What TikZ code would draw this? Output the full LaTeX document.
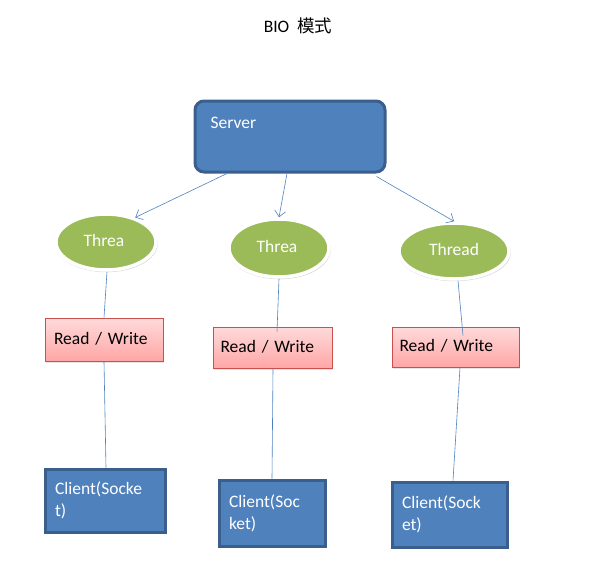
\documentclass[tikz,border=0pt]{standalone}
\usepackage{fontspec}
\setmainfont{Carlito}
\newfontfamily\cjk{Noto Sans CJK SC}
\usetikzlibrary{shapes.geometric,arrows.meta,shadows}

\definecolor{boxblue}{HTML}{4F81BD}
\definecolor{boxrim}{HTML}{3A5F8C}
\definecolor{threadgreen}{HTML}{9BBB59}
\definecolor{rwtop}{HTML}{FFDADA}
\definecolor{rwbot}{HTML}{FFA6A6}
\definecolor{rwrim}{HTML}{C8504D}

\begin{document}
\begin{tikzpicture}[x=1pt,y=-1pt,
	font=\fontsize{17.5}{22}\selectfont,
	srvbox/.style={draw=boxrim,fill=boxblue,line width=3pt,rounded corners=9pt},
	thrd/.style={ellipse,fill=threadgreen,draw=white,line width=3.5pt,text=white,
		drop shadow={opacity=0.3,shadow xshift=0.5pt,shadow yshift=-1.5pt,shadow scale=1.025}},
	rwbox/.style={draw=rwrim,line width=1pt,top color=rwtop,bottom color=rwbot,
		align=left,drop shadow={opacity=0.2,shadow xshift=1pt,shadow yshift=-2pt}},
	clbox/.style={draw=boxrim,fill=boxblue,line width=3pt,text=white,align=left},
	link/.style={draw=boxblue,line width=0.6pt}]
	\useasboundingbox (0,0) rectangle (591,563);
	
	
	
	% title
	\node (title) at (298,26) {BIO\ \ {\cjk 模式}};
	
	
	
	% server and threads
	\node[srvbox,minimum width=190,minimum height=71,
		label={[text=white,anchor=base west,inner sep=0pt,xshift=17pt,yshift=-29pt]north west:Server}]
		(server) at (290,136.5) {};
	
	\node[thrd,minimum width=100,minimum height=56] (t1) at (106,242) {\raisebox{3pt}{Threa\hspace{4pt}}};
	\node[thrd,minimum width=100,minimum height=58] (t2) at (279,248) {\raisebox{3pt}{Threa\hspace{4pt}}};
	\node[thrd,minimum width=110,minimum height=56] (t3) at (454,251) {\raisebox{3pt}{Thread}};
	
	\draw[link,-{Straight Barb[length=6pt,width=11pt]}] ([xshift=-63pt]server.south) -- (t1.40);
	\draw[link,-{Straight Barb[length=6pt,width=11pt]}] ([xshift=-3pt]server.south) -- (t2.north);
	\draw[link,-{Straight Barb[length=6pt,width=11pt]}] ([xshift=-10pt,yshift=-3pt]server.south east) -- (t3.north);
	
	
	
	% read / write
	\node[rwbox,minimum width=118,minimum height=43,text width=100] (rw1) at (104,339.5) {\raisebox{3pt}{Read / Write}};
	\node[rwbox,minimum width=119,minimum height=41,text width=104] (rw2) at (272.5,347.5) {\raisebox{3pt}{Read / Write}};
	\node[rwbox,minimum width=127,minimum height=40,text width=112] (rw3) at (455.5,347) {\raisebox{3pt}{Read / Write}};
	
	
	
	% clients
	\node[clbox,minimum width=120,minimum height=63,text width=100] (c1) at (105,500.5) {Client(Socke\\t)};
	\node[clbox,minimum width=106,minimum height=66,text width=86] (c2) at (272,513) {Client(Soc\\ket)};
	\node[clbox,minimum width=115,minimum height=65,text width=95] (c3) at (449.5,514.5) {Client(Sock\\et)};
	
	
	
	% lines down
	\draw[link] ([xshift=1pt]t1.south) -- (rw1.north);
	\draw[link] (rw1.south) -- ([xshift=1pt]c1.north);
	
	\draw[link] (t2.south) -- ([xshift=4.5pt,yshift=-5pt]rw2.north);
	\draw[link] ([xshift=0.5pt]rw2.south) -- (c2.north);
	
	\draw[link] ([xshift=4pt]t3.south) -- ([xshift=7.5pt,yshift=-9pt]rw3.north);
	\draw[link] ([xshift=4.5pt]rw3.south) -- ([xshift=3.5pt]c3.north);
	 
\end{tikzpicture}
\end{document}
